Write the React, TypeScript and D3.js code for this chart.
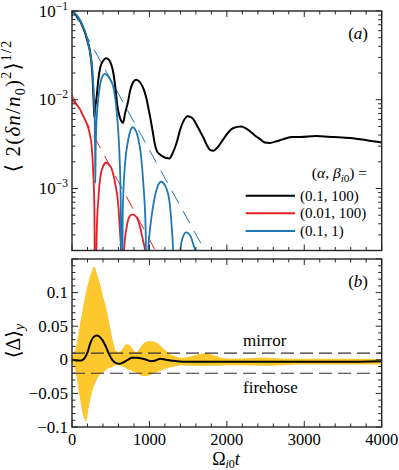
import React from "react";
import * as d3 from "d3";

// ---- panel (a): rms density perturbation vs Omega_i0 t ----
const blackT = [0, 100, 200, 250, 270, 282, 289, 296, 319, 340, 362, 384, 410, 439, 470, 491, 534, 568, 586, 610, 640, 660, 685, 710, 727, 749, 790, 827, 865, 900, 935, 965, 990, 1008, 1040, 1072, 1100, 1128, 1170, 1220, 1257, 1300, 1352, 1400, 1438, 1495, 1530, 1568, 1610, 1654, 1700, 1740, 1790, 1826, 1880, 1955, 2020, 2084, 2180, 2240, 2300, 2370, 2429, 2490, 2558, 2640, 2730, 2850, 2946, 3150, 3376, 3592, 3807, 4000];
const blackV = [0.1, 0.079, 0.046, 0.027, 0.015, 0.0085, 0.0063, 0.0075, 0.0109, 0.0168, 0.0225, 0.0258, 0.028, 0.0294, 0.0285, 0.027, 0.02, 0.0119, 0.0085, 0.0067, 0.0057, 0.0055, 0.007, 0.0085, 0.0098, 0.0125, 0.0158, 0.0168, 0.0162, 0.0147, 0.0125, 0.01, 0.0078, 0.0065, 0.0045, 0.0031, 0.0026, 0.00245, 0.0023, 0.0022, 0.00218, 0.0025, 0.0033, 0.0047, 0.0057, 0.0065, 0.0064, 0.006, 0.0052, 0.0044, 0.0037, 0.0031, 0.0027, 0.00267, 0.0029, 0.0036, 0.0043, 0.0048, 0.005, 0.0048, 0.0044, 0.0039, 0.0036, 0.0033, 0.00326, 0.0034, 0.0036, 0.0038, 0.0038, 0.0039, 0.0038, 0.0037, 0.0035, 0.0033];

const redT = [0, 50, 103, 150, 189, 233, 254, 276, 289, 300, 319, 340, 362, 405, 435, 491, 556, 599, 620, 633, 645, 672, 707, 749, 784, 836, 878, 921, 943, 965];
const redV = [0.01, 0.009, 0.0078, 0.0064, 0.0054, 0.004, 0.003, 0.0014, 0.0006, 0.00001, 0.00032, 0.00075, 0.00126, 0.0018, 0.00195, 0.0018, 0.00116, 0.00063, 0.00032, 0.0002, 0.00001, 0.0002, 0.00037, 0.00049, 0.00051, 0.00047, 0.00037, 0.00025, 0.0002, 0.00001];

const blueT = [0, 39, 103, 168, 211, 241, 263, 276, 284, 293, 298, 301, 305, 312, 325, 340, 362, 384, 426, 470, 500, 534, 570, 599, 615, 629, 642, 655, 670, 685, 727, 760, 784, 810, 857, 890, 921, 952, 965, 985, 1000, 1030, 1094, 1150, 1223, 1260, 1288, 1305, 1330, 1360, 1400, 1430, 1475, 1530, 1570, 1590, 1630];
const blueV = [0.1, 0.094, 0.079, 0.0586, 0.0434, 0.0307, 0.0217, 0.0141, 0.01, 0.006, 0.0028, 0.00115, 0.0025, 0.0045, 0.0075, 0.0105, 0.0145, 0.0175, 0.0196, 0.0182, 0.0165, 0.0138, 0.0085, 0.0042, 0.0022, 0.00075, 0.00001, 0.0005, 0.0012, 0.0019, 0.0036, 0.0046, 0.0049, 0.0047, 0.0036, 0.0024, 0.00115, 0.00032, 0.00001, 0.0002, 0.0003, 0.0005, 0.00098, 0.00119, 0.00098, 0.0007, 0.00037, 0.0002, 0.00001, 0.00001, 0.0002, 0.00028, 0.00032, 0.00029, 0.00023, 0.0002, 0.00001];

// damping envelopes (dashed)
const blueDashT = [0, 1715];
const blueDashV = [0.104, 0.0002];
const redDashT = [0, 1076];
const redDashV = [0.0113, 0.0002];

// ---- panel (b): <Delta>_y mean and spread ----
const bandT = [0, 40, 100, 150, 181, 210, 250, 289, 330, 362, 400, 440, 490, 530, 568, 610, 655, 700, 740, 784, 827, 870, 913, 960, 1000, 1085, 1150, 1214, 1280, 1344, 1400, 1500, 1600, 1719, 1800, 1900, 2000, 2200, 2472, 2700, 3000, 3500, 4000];
const bandUpper = [0.004, 0.014, 0.05, 0.083, 0.1, 0.115, 0.13, 0.139, 0.125, 0.113, 0.095, 0.078, 0.05, 0.028, 0.013, 0.012, 0.017, 0.023, 0.022, 0.016, 0.011, 0.016, 0.023, 0.027, 0.028, 0.026, 0.02, 0.013, 0.008, 0.005, 0.003, 0.004, 0.007, 0.01, 0.008, 0.004, 0.002, 0.002, 0.0035, 0.002, 0.0015, 0.0015, 0.001];
const bandLower = [-0.004, -0.015, -0.055, -0.085, -0.092, -0.075, -0.052, -0.038, -0.027, -0.022, -0.02, -0.015, -0.012, -0.01, -0.008, -0.008, -0.01, -0.013, -0.015, -0.017, -0.019, -0.022, -0.024, -0.024, -0.023, -0.019, -0.016, -0.013, -0.011, -0.01, -0.008, -0.009, -0.009, -0.009, -0.009, -0.009, -0.008, -0.008, -0.009, -0.008, -0.007, -0.007, -0.007];
const meanT = [0, 60, 120, 160, 200, 240, 280, 320, 360, 400, 440, 480, 520, 570, 610, 660, 720, 780, 840, 900, 960, 1020, 1080, 1140, 1200, 1270, 1350, 1500, 2000, 2500, 3000, 3500, 4000];
const meanV = [0, -0.001, -0.001, 0.002, 0.011, 0.026, 0.034, 0.036, 0.034, 0.028, 0.019, 0.008, 0, -0.005, -0.006, -0.004, 0, 0.003, 0.003, 0.002, 0, -0.002, -0.001, 0.0015, 0.0005, -0.001, -0.002, -0.003, -0.003, -0.003, -0.003, -0.003, -0.002];
const mirrorLevel = 0.01;
const firehoseLevel = -0.02;

const xTickLabels = [0, 1000, 2000, 3000, 4000];
const yaMajor = [1e-3, 1e-2, 1e-1];
const ybMajor = [-0.1, -0.05, 0, 0.05, 0.1];
const ybLabels = ["\u22120.1", "\u22120.05", "0", "0.05", "0.1"];

const COLORS = { black: "#000000", red: "#e41f26", blue: "#1f78b4", band: "#fcc82e", axis: "#262626" };
const legendItems = [
  { label: "(0.1, 100)", color: COLORS.black },
  { label: "(0.01, 100)", color: COLORS.red },
  { label: "(0.1, 1)", color: COLORS.blue },
];

const W = 399, H = 470;
const L = 72, R = 381.7;
const aTop = 11, aBot = 250.5;
const bTop = 259, bBot = 427;
const FONT = 'Liberation Serif, "Times New Roman", Times, "DejaVu Serif", "Noto Serif", serif';

export default function App() {
  const x = d3.scaleLinear().domain([0, 4000]).range([L, R]);
  const yA = d3.scaleLog().domain([2e-4, 1e-1]).range([aBot, aTop]);
  const yB = d3.scaleLinear().domain([-0.1, 0.15]).range([bBot, bTop]);

  const pairs = (t: number[], v: number[]) => t.map((tt, i) => [tt, v[i]] as [number, number]);
  const lineA = d3.line<[number, number]>().x(d => x(d[0])).y(d => yA(d[1])).curve(d3.curveMonotoneX);
  const straightA = d3.line<[number, number]>().x(d => x(d[0])).y(d => yA(d[1]));
  const lineB = d3.line<[number, number]>().x(d => x(d[0])).y(d => yB(d[1])).curve(d3.curveMonotoneX);
  const band = d3.area<number>()
    .x((d, i) => x(bandT[i]))
    .y0((d, i) => yB(bandLower[i]))
    .y1((d, i) => yB(bandUpper[i]))
    .curve(d3.curveMonotoneX);

  const xMinor = d3.range(0, 4001, 200);
  const yaMinor: number[] = [];
  [1e-4, 1e-3, 1e-2].forEach(dec => { for (let k = 2; k <= 9; k++) { const v = k * dec; if (v >= 2e-4 && v < 0.1) yaMinor.push(v); } });
  const ybMinor = d3.range(-10, 16).map(k => k / 100);

  const tick = (key: string, x1: number, y1: number, x2: number, y2: number) =>
    <line key={key} x1={x1} y1={y1} x2={x2} y2={y2} stroke={COLORS.axis} strokeWidth={1} />;

  const xTicks = (top: number, bot: number, p: string) => xMinor.map(t => {
    const len = t % 1000 === 0 ? 6 : 3.5;
    return [tick(p + "t" + t, x(t), top, x(t), top + len), tick(p + "b" + t, x(t), bot, x(t), bot - len)];
  });

  return (
    <svg width={W} height={H} style={{ position: "absolute", left: 0, top: 0, fontFamily: FONT }}>
      <defs>
        <clipPath id="clipA"><rect x={L} y={aTop} width={R - L} height={aBot - aTop} /></clipPath>
        <clipPath id="clipB"><rect x={L} y={bTop} width={R - L} height={bBot - bTop} /></clipPath>
      </defs>
      <rect width={W} height={H} fill="#fff" />

      {/* panel (a) */}
      <g clipPath="url(#clipA)">
        <path d={straightA(pairs(blueDashT, blueDashV)) || ""} fill="none" stroke={COLORS.blue} strokeWidth={1} strokeDasharray="14,9" />
        <path d={straightA(pairs(redDashT, redDashV)) || ""} fill="none" stroke={COLORS.red} strokeWidth={1} strokeDasharray="14,9" />
        <path d={lineA(pairs(blackT, blackV)) || ""} fill="none" stroke={COLORS.black} strokeWidth={2} />
        <path d={lineA(pairs(redT, redV)) || ""} fill="none" stroke={COLORS.red} strokeWidth={1.8} />
        <path d={lineA(pairs(blueT, blueV)) || ""} fill="none" stroke={COLORS.blue} strokeWidth={1.8} />
      </g>
      {xTicks(aTop, aBot, "a")}
      {yaMajor.map(v => [tick("yal" + v, L, yA(v), L + 6, yA(v)), tick("yar" + v, R, yA(v), R - 6, yA(v))])}
      {yaMinor.map(v => [tick("yaml" + v, L, yA(v), L + 3.5, yA(v)), tick("yamr" + v, R, yA(v), R - 3.5, yA(v))])}
      <rect x={L} y={aTop} width={R - L} height={aBot - aTop} fill="none" stroke={COLORS.axis} strokeWidth={1.4} />
      {yaMajor.map(v => (
        <text key={"yalab" + v} x={68} y={yA(v) + 5.5} textAnchor="end" fontSize={17}>
          10<tspan dy={-7} fontSize={11.5}>{"\u2212" + Math.round(-Math.log10(v))}</tspan>
        </text>
      ))}
      <text x={368} y={39} textAnchor="end" fontSize={17}>(<tspan fontStyle="italic">a</tspan>)</text>

      {/* legend */}
      <text x={367} y={178} textAnchor="end" fontSize={15.5}>
        (<tspan fontStyle="italic">α</tspan>, <tspan fontStyle="italic">β</tspan><tspan dy={4} fontSize={11}><tspan fontStyle="italic">i</tspan>0</tspan><tspan dy={-4}>) =</tspan>
      </text>
      {legendItems.map((d, i) => {
        const ly = 195.7 + i * 17.6;
        return (
          <g key={d.label}>
            <line x1={245.7} x2={295} y1={ly} y2={ly} stroke={d.color} strokeWidth={2} />
            <text x={300} y={ly + 5} fontSize={15}>{d.label}</text>
          </g>
        );
      })}

      {/* panel (b) */}
      <g clipPath="url(#clipB)">
        <path d={band(bandT) || ""} fill={COLORS.band} stroke="none" />
        <line x1={L} x2={R} y1={yB(mirrorLevel)} y2={yB(mirrorLevel)} stroke="#333" strokeWidth={1.1} strokeDasharray="13,6" />
        <line x1={L} x2={R} y1={yB(firehoseLevel)} y2={yB(firehoseLevel)} stroke="#333" strokeWidth={1.1} strokeDasharray="13,6" />
        <path d={lineB(pairs(meanT, meanV)) || ""} fill="none" stroke={COLORS.black} strokeWidth={2} />
      </g>
      {xTicks(bTop, bBot, "b")}
      {ybMinor.map(v => {
        const major = Math.abs(Math.round(v * 100)) % 5 === 0;
        const len = major ? 6 : 3.5;
        return [tick("ybl" + v, L, yB(v), L + len, yB(v)), tick("ybr" + v, R, yB(v), R - len, yB(v))];
      })}
      <rect x={L} y={bTop} width={R - L} height={bBot - bTop} fill="none" stroke={COLORS.axis} strokeWidth={1.4} />
      {ybMajor.map((v, i) => (
        <text key={"yblab" + v} x={68} y={yB(v) + 5.5} textAnchor="end" fontSize={17}>{ybLabels[i]}</text>
      ))}
      {xTickLabels.map(t => (
        <text key={"xl" + t} x={x(t)} y={445} textAnchor="middle" fontSize={16.5}>{t}</text>
      ))}
      <text x={368} y={287} textAnchor="end" fontSize={17}>(<tspan fontStyle="italic">b</tspan>)</text>
      <text x={243} y={346} fontSize={17}>mirror</text>
      <text x={243} y={393} fontSize={17}>firehose</text>

      {/* axis labels */}
      <text x={226} y={465} textAnchor="middle" fontSize={18}>
        Ω<tspan dy={3} fontSize={12}><tspan fontStyle="italic">i</tspan>0</tspan><tspan dy={-3} fontStyle="italic">t</tspan>
      </text>
      <text transform="translate(20,106) rotate(-90)" textAnchor="middle" fontSize={21} letterSpacing={1.2}>
        {"\u27E8 2("}<tspan fontStyle="italic">δn</tspan>/<tspan fontStyle="italic">n</tspan><tspan dy={4.5} fontSize={14}>0</tspan><tspan dy={-4.5}>)</tspan><tspan dy={-9} fontSize={14}>2</tspan><tspan dy={9}>{"\u27E9"}</tspan><tspan dy={-9} fontSize={14}>1/2</tspan>
      </text>
      <text transform="translate(20,341) rotate(-90)" textAnchor="middle" fontSize={20}>
        {"\u27E8Δ\u27E9"}<tspan dy={4} fontSize={14} fontStyle="italic">y</tspan>
      </text>
    </svg>
  );
}
